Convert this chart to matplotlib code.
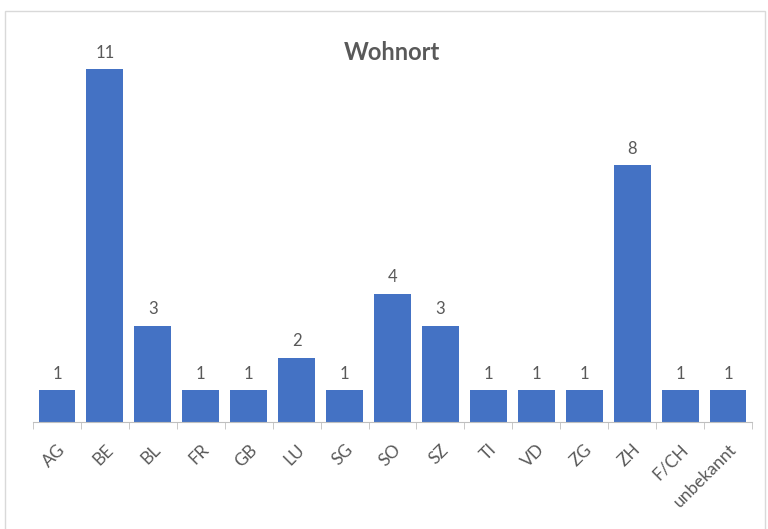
import numpy as np
import matplotlib.pyplot as plt
from matplotlib.patches import Rectangle

kategorien = ["AG", "BE", "BL", "FR", "GB", "LU", "SG", "SO", "SZ", "TI", "VD", "ZG", "ZH", "F/CH", "unbekannt"]
anzahl = [1, 11, 3, 1, 1, 2, 1, 4, 3, 1, 1, 1, 8, 1, 1]

plt.rcParams['font.family'] = ['Lato', 'DejaVu Sans']
grau = '#595959'

fig = plt.figure(figsize=(7.68, 5.29), dpi=100)
ax = fig.add_axes([33/768, 107/529, 719/768, 385/529])

x = np.arange(len(kategorien))
balken = ax.bar(x, anzahl, width=0.77, color='#4472C4')
ax.bar_label(balken, padding=6, fontsize=12, color=grau)

ax.set_xlim(-0.5, len(kategorien) - 0.5)
ax.set_ylim(0, 12)
ax.set_yticks([])
for s in ['top', 'right', 'left']:
    ax.spines[s].set_visible(False)
ax.spines['bottom'].set_color('#bfbfbf')

ax.set_xticks(x)
ax.set_xticklabels(kategorien, rotation=45, ha='right', rotation_mode='anchor',
                   fontsize=12.5, color=grau)
ax.tick_params(axis='x', which='major', length=0, pad=14)
ax.set_xticks(np.arange(-0.5, len(kategorien)), minor=True)
ax.tick_params(axis='x', which='minor', length=5, color='#bfbfbf')

fig.text(392/768, 1 - 52/529, "Wohnort", ha='center', va='center',
         fontsize=17, fontweight='bold', color=grau)

# Rahmen wie im Excel-Diagramm
fig.add_artist(Rectangle((5/768, -0.05), 760/768, 1.05 - 11/529,
                         transform=fig.transFigure, fill=False,
                         edgecolor='#d9d9d9', linewidth=1))

fig.savefig('out.png', dpi=100)
